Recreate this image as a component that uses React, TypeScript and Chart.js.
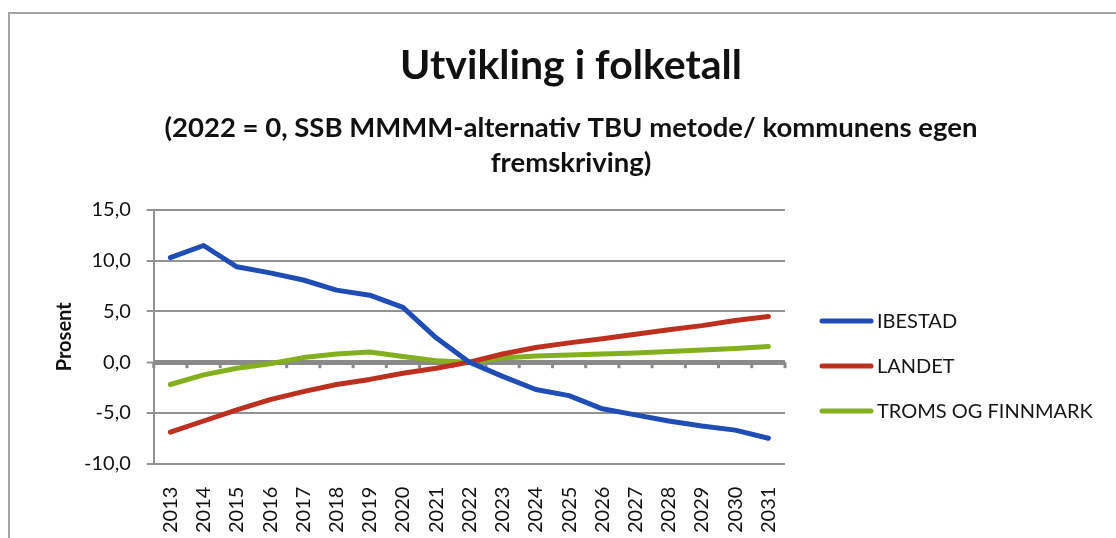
import React, { useEffect, useRef } from "react";
import { Chart, registerables } from "chart.js";

Chart.register(...registerables);

const years = ["2013","2014","2015","2016","2017","2018","2019","2020","2021","2022","2023","2024","2025","2026","2027","2028","2029","2030","2031"];
const ibestad = [10.3, 11.5, 9.4, 8.8, 8.1, 7.1, 6.6, 5.4, 2.4, 0, -1.4, -2.7, -3.3, -4.6, -5.2, -5.8, -6.3, -6.7, -7.5];
const landet = [-6.9, -5.8, -4.7, -3.7, -2.9, -2.2, -1.7, -1.1, -0.6, 0, 0.8, 1.45, 1.9, 2.3, 2.75, 3.2, 3.6, 4.1, 4.5];
const tromsFinnmark = [-2.2, -1.25, -0.6, -0.15, 0.45, 0.8, 1.0, 0.55, 0.15, 0, 0.4, 0.6, 0.7, 0.8, 0.9, 1.05, 1.2, 1.35, 1.55];
const seriesNames = ["IBESTAD", "LANDET", "TROMS OG FINNMARK"];
const titleText = "Utvikling i folketall";
const subtitleLines = ["(2022 = 0, SSB MMMM-alternativ TBU metode/ kommunens egen", "fremskriving)"];
const yTitle = "Prosent";

const FONT = "Lato, 'Noto Sans', sans-serif";

const headingPlugin = {
  id: "heading",
  afterDraw(chart: any) {
    const { ctx } = chart;
    ctx.save();
    ctx.fillStyle = "#111";
    ctx.textAlign = "center";
    ctx.textBaseline = "middle";
    ctx.font = `bold 41px ${FONT}`;
    ctx.fillText(titleText, 571, 66);
    ctx.font = `bold 27.5px ${FONT}`;
    subtitleLines.forEach((line, i) => ctx.fillText(line, 571, 128 + i * 35));
    ctx.restore();
  },
};

const zeroTicksPlugin = {
  id: "zeroTicks",
  beforeDatasetsDraw(chart: any) {
    const { ctx, chartArea, scales } = chart;
    const y0 = scales.y.getPixelForValue(0);
    const n = chart.data.labels.length;
    const w = (chartArea.right - chartArea.left) / n;
    ctx.save();
    ctx.fillStyle = "#8a8a8a";
    for (let i = 0; i <= n; i++) {
      const x = chartArea.left + i * w;
      ctx.fillRect(x - 1.5, y0, 3, 6);
    }
    ctx.restore();
  },
};

const legendPlugin = {
  id: "customLegend",
  afterDraw(chart: any) {
    const { ctx } = chart;
    const startY = 321;
    const step = 45;
    ctx.save();
    chart.data.datasets.forEach((ds: any, i: number) => {
      const y = startY + i * step;
      ctx.strokeStyle = ds.borderColor;
      ctx.lineWidth = 5;
      ctx.lineCap = "round";
      ctx.beginPath();
      ctx.moveTo(822, y);
      ctx.lineTo(871, y);
      ctx.stroke();
      ctx.fillStyle = "#151515";
      ctx.font = `20px ${FONT}`;
      ctx.textBaseline = "middle";
      ctx.textAlign = "left";
      ctx.fillText(ds.label, 877, y + 1);
    });
    ctx.restore();
  },
};

export default function App() {
  const ref = useRef<HTMLCanvasElement | null>(null);
  useEffect(() => {
    if (!ref.current) return;
    const chart = new Chart(ref.current, {
      type: "line",
      data: {
        labels: years,
        datasets: [
          { label: seriesNames[0], data: ibestad, borderColor: "#1f4db5", backgroundColor: "#1f4db5" },
          { label: seriesNames[1], data: landet, borderColor: "#bd3020", backgroundColor: "#bd3020" },
          { label: seriesNames[2], data: tromsFinnmark, borderColor: "#84b01f", backgroundColor: "#84b01f" },
        ],
      },
      options: {
        animation: false,
        responsive: true,
        maintainAspectRatio: false,
        elements: {
          line: { borderWidth: 5, tension: 0, borderCapStyle: "round", borderJoinStyle: "round" },
          point: { radius: 0, hoverRadius: 0 },
        },
        layout: { padding: { left: 49, right: 331, top: 210, bottom: -10 } },
        plugins: {
          legend: { display: false },
          tooltip: { enabled: false },
          title: { display: false },
          subtitle: { display: false },
        },
        scales: {
          x: {
            offset: true,
            grid: { display: false },
            border: { display: false },
            ticks: {
              color: "#111",
              font: { family: FONT, size: 20 },
              minRotation: 90,
              maxRotation: 90,
              padding: 15,
              autoSkip: false,
            },
          },
          y: {
            min: -10,
            max: 15,
            grid: {
              color: (c: any) => (c.tick && c.tick.value === 0 ? "#8a8a8a" : "#929292"),
              lineWidth: (c: any) => (c.tick && c.tick.value === 0 ? 5 : 2),
              tickLength: 7,
              tickColor: "#929292",
              tickWidth: 2,
            },
            border: { display: true, color: "#929292", width: 2 },
            ticks: {
              stepSize: 5,
              color: "#111",
              font: { family: FONT, size: 20 },
              padding: 16,
              callback: (v: any) => Number(v).toFixed(1).replace(".", ","),
            },
            title: {
              display: true,
              text: yTitle,
              color: "#111",
              font: { family: FONT, size: 20, weight: "bold", lineHeight: 1.2 },
              padding: { top: 4, bottom: -9 },
            },
          },
        },
      },
      plugins: [zeroTicksPlugin, legendPlugin, headingPlugin],
    });
    return () => chart.destroy();
  }, []);

  return (
    <div style={{ position: "fixed", left: 0, top: 0, width: 1116, height: 538, overflow: "hidden", background: "#fff" }}>
      <div
        style={{
          position: "absolute",
          left: 8,
          top: 12,
          width: 1200,
          height: 600,
          borderLeft: "2px solid #a5a5a5",
          borderTop: "2px solid #a5a5a5",
        }}
      />
      <div style={{ position: "absolute", left: 0, top: 0, width: 1116, height: 538 }}>
        <canvas ref={ref} />
      </div>
    </div>
  );
}
